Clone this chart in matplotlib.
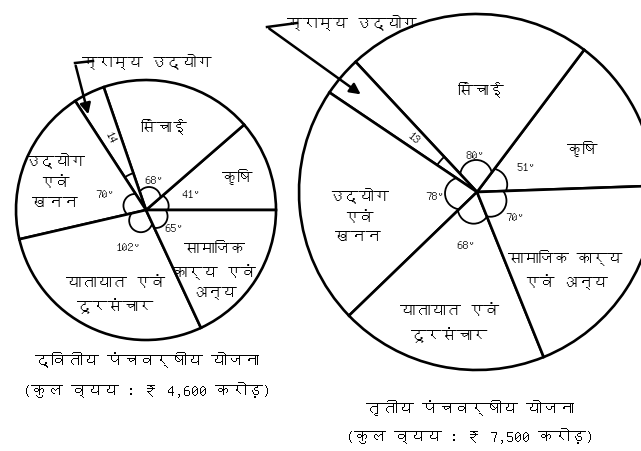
import numpy as np
import matplotlib
matplotlib.use('Agg')
import matplotlib.pyplot as plt
from matplotlib import font_manager
from matplotlib.ft2font import FT2Font
from matplotlib.patches import Circle, Arc

# data (degrees of each sector), counter-clockwise from the right
labels = ['कृषि', 'सिंचाई', 'ग्राम्य उद्योग', 'उद्योग\nएवं\nखनन',
          'यातायात एवं\nदूरसंचार', 'सामाजिक\nकार्य एवं\nअन्य']
labels3 = ['कृषि', 'सिंचाई', 'ग्राम्य उद्योग', 'उद्योग\nएवं\nखनन',
           'यातायात एवं\nदूरसंचार', 'सामाजिक कार्य\nएवं अन्य']
second_plan = [41, 68, 14, 70, 102, 65]
third_plan = [51, 80, 13, 78, 68, 70]
title2 = 'द्वितीय पंचवर्षीय योजना\n(कुल व्यय : ₹ 4,600 करोड़)'
title3 = 'तृतीय पंचवर्षीय योजना\n(कुल व्यय : ₹ 7,500 करोड़)'


def find_font(ch='क'):
    for f in font_manager.fontManager.ttflist:
        try:
            if FT2Font(f.fname).get_char_index(ord(ch)):
                return f.name
        except Exception:
            pass
    return 'DejaVu Sans'

dev = find_font()
plt.rcParams['font.family'] = [dev, 'DejaVu Sans']
plt.rcParams['font.weight'] = 'bold'

fig = plt.figure(figsize=(6.41, 4.52), dpi=100)
ax = fig.add_axes([0, 0, 1, 1])


def draw_pie(vals, names, center, r, start, name_pos, deg_r, vill_r):
    wedges, _ = ax.pie(vals, startangle=start, counterclock=True, center=center, radius=r,
                       colors=['white'] * len(vals),
                       wedgeprops=dict(edgecolor='black', linewidth=1.9))
    cx, cy = center
    for i, w in enumerate(wedges):
        mid = np.deg2rad((w.theta1 + w.theta2) / 2)
        # sector name (radius fraction, angle shift from the bisector)
        if i != 2:
            fr, shift = name_pos[i]
            a = mid + np.deg2rad(shift)
            ax.text(cx + fr * r * np.cos(a), cy + fr * r * np.sin(a), names[i],
                    ha='center', va='center', fontsize=11, linespacing=1.6)
        if i == 2:
            # thin village industry sector: rotated label and an arc
            ax.text(cx + deg_r[i] * r * np.cos(mid), cy + deg_r[i] * r * np.sin(mid), str(vals[i]),
                    ha='center', va='center', fontsize=9, rotation=np.rad2deg(mid) - 180)
            ax.add_patch(Arc(center, 2 * vill_r * r, 2 * vill_r * r, theta1=w.theta1, theta2=w.theta2,
                             color='black', lw=1.3))
        else:
            ax.text(cx + deg_r[i] * r * np.cos(mid), cy + deg_r[i] * r * np.sin(mid), f'{vals[i]}°',
                    ha='center', va='center', fontsize=9)
            lobe = Circle((cx + 0.09 * r * np.cos(mid), cy + 0.09 * r * np.sin(mid)), 0.09 * r,
                          fill=False, ec='black', lw=1.3)
            ax.add_patch(lobe)
            lobe.set_clip_path(w)


draw_pie(second_plan, labels, (146, 241), 130, 0,
         [(0.75, 0), (0.66, 3), None, (0.74, 4), (0.69, 6), (0.7, -9)],
         [0.37, 0.24, 0.62, 0.34, 0.31, 0.25], 0.3)
draw_pie(third_plan, labels3, (477, 259), 178, 2,
         [(0.64, -5), (0.58, -5), None, (0.68, 6), (0.75, 0), (0.66, -8)],
         [0.31, 0.21, 0.47, 0.24, 0.3, 0.25], 0.27)

# arrows for the village industry sector
ax.text(147, 390, 'ग्राम्य उद्योग', ha='center', va='center', fontsize=11)
ax.plot([93, 75], [390, 388], color='black', lw=1.8)
ax.annotate('', xy=(89, 334), xytext=(75, 388),
            arrowprops=dict(arrowstyle='-|>', color='black', lw=1.8, mutation_scale=16))
ax.text(352, 429, 'ग्राम्य उद्योग', ha='center', va='center', fontsize=11)
ax.plot([297, 267], [428, 424], color='black', lw=1.8)
ax.annotate('', xy=(363, 355), xytext=(267, 424),
            arrowprops=dict(arrowstyle='-|>', color='black', lw=1.8, mutation_scale=16))

ax.text(147, 77, title2, ha='center', va='center', fontsize=11.5, linespacing=2.0)
ax.text(470, 30, title3, ha='center', va='center', fontsize=11.5, linespacing=1.9)

ax.set_xlim(0, 641)
ax.set_ylim(0, 452)
ax.set_aspect('auto')
ax.axis('off')

fig.savefig('out.png', dpi=100)
